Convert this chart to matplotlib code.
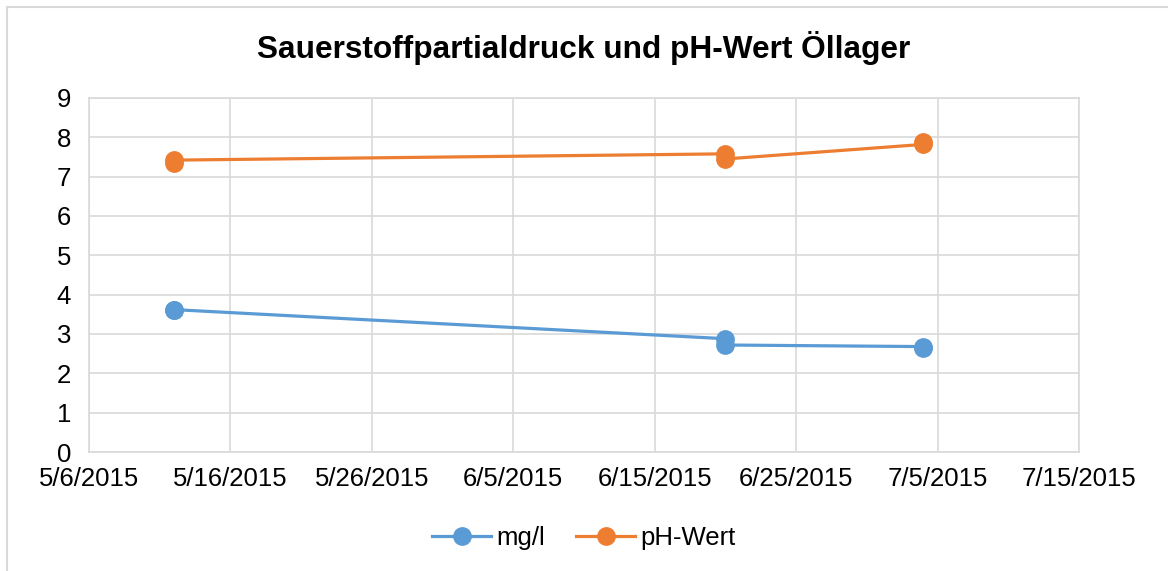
import datetime as dt

import matplotlib
matplotlib.use("Agg")
import matplotlib.pyplot as plt
import matplotlib.dates as mdates
from matplotlib import ticker
from matplotlib.patches import Rectangle

plt.rcParams['font.family'] = ['Liberation Sans', 'DejaVu Sans']

# measurement dates (several samples on the same day)
dates = [dt.date(2015, 5, 12), dt.date(2015, 5, 12),
         dt.date(2015, 6, 20), dt.date(2015, 6, 20),
         dt.date(2015, 7, 4), dt.date(2015, 7, 4)]
mg_l = [3.6, 3.62, 2.88, 2.72, 2.68, 2.65]
ph_wert = [7.35, 7.42, 7.58, 7.45, 7.82, 7.88]

blue = '#5B9BD5'
orange = '#ED7D31'
grid = '#D9D9D9'

fig = plt.figure(figsize=(11.68, 5.71), dpi=100)
ax = fig.add_axes([0.0762, 0.2084, 0.8476, 0.62])

ax.plot(dates, mg_l, '-o', color=blue, linewidth=2.3, markersize=12.5, label='mg/l')
ax.plot(dates, ph_wert, '-o', color=orange, linewidth=2.3, markersize=12.5, label='pH-Wert')

start = dt.date(2015, 5, 6)
ax.set_xlim(start, dt.date(2015, 7, 15))
ax.set_ylim(0, 9)
ax.set_xticks([start + dt.timedelta(days=10 * i) for i in range(8)])
ax.xaxis.set_major_formatter(ticker.FuncFormatter(
    lambda v, p: '{d.month}/{d.day}/{d.year}'.format(d=mdates.num2date(v))))
ax.yaxis.set_major_locator(ticker.MultipleLocator(1))

ax.grid(True, color=grid, linewidth=1.2)
ax.set_axisbelow(True)
for s in ax.spines.values():
    s.set_color(grid)
    s.set_linewidth(1.2)
ax.tick_params(length=0, labelsize=18.5, colors='black')
ax.tick_params(axis='x', pad=11)
ax.tick_params(axis='y', pad=13)

fig.text(0.5, 0.916, 'Sauerstoffpartialdruck und pH-Wert Öllager', fontsize=22.8,
         fontweight='bold', ha='center', va='center')

fig.legend(loc='center', bbox_to_anchor=(0.5, 0.058), ncol=2, frameon=False,
           fontsize=18.5, handlelength=2.3, columnspacing=1.2, handletextpad=0.2)

fig.patches.append(Rectangle((0.006, -0.01), 0.999, 0.998, transform=fig.transFigure,
                             fill=False, edgecolor=grid, linewidth=1.5))

fig.savefig('out.png', dpi=100)
